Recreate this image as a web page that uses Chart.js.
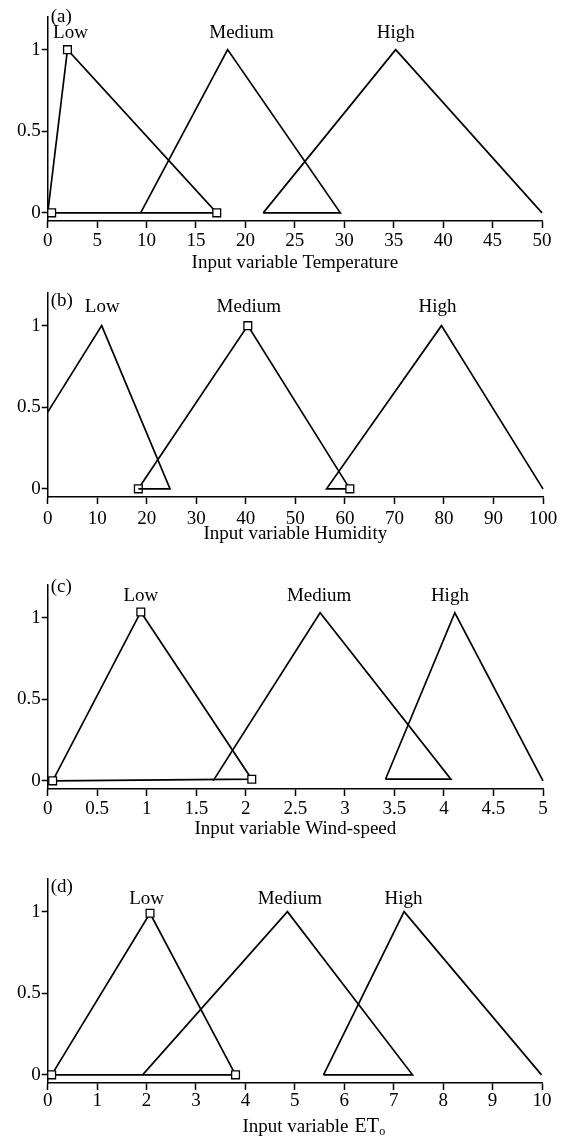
<!DOCTYPE html>
<html>
<head>
<meta charset="utf-8">
<script src="https://cdn.jsdelivr.net/npm/chart.js@4.4.0/dist/chart.umd.min.js"></script>
<style>
    body { margin: 0; background: #fff; }
    .panel { position: absolute; left: 0; }
</style>
</head>
<body>
<div class="panel" style="top:0px"><canvas id="canvas1" width="562" height="274"></canvas></div>
<div class="panel" style="top:280px"><canvas id="canvas2" width="562" height="265"></canvas></div>
<div class="panel" style="top:570px"><canvas id="canvas3" width="562" height="270"></canvas></div>
<div class="panel" style="top:860px"><canvas id="canvas4" width="562" height="277"></canvas></div>
<script>
// membership functions as (x, y) corner points
const setNames = ["Low", "Medium", "High"];
const yTicks = [0, 0.5, 1];

// (a) temperature
const tempLowX = [0, 2.0, 17.1, 0.4];
const tempLowY = [0, 1, 0, 0];
const tempLowMarks = [0, 1, 1, 1];
const tempMedX = [9.4, 18.2, 29.6, 21.8];
const tempMedY = [0, 1, 0, 0];
const tempHighX = [21.8, 35.2, 50];
const tempHighY = [0, 1, 0];
const tempLabelX = [2.3, 19.6, 35.2];

// (b) humidity
const humLowX = [0, 10.9, 24.7, 18.3];
const humLowY = [0.47, 1, 0, 0];
const humMedX = [18.3, 40.4, 61];
const humMedY = [0, 1, 0];
const humMedMarks = [1, 1, 1];
const humHighX = [61, 56.3, 79.5, 100];
const humHighY = [0, 0, 1, 0];
const humLabelX = [11, 40.6, 78.7];

// (c) wind speed
const windLowX = [0.05, 0.94, 2.06, 0.05];
const windLowY = [0, 1.035, 0.01, 0];
const windLowMarks = [1, 1, 1, 0];
const windMedX = [1.67, 2.75, 4.07, 3.41];
const windMedY = [0, 1.03, 0.01, 0.01];
const windHighX = [3.41, 4.11, 5];
const windHighY = [0.01, 1.03, 0];
const windLabelX = [0.94, 2.74, 4.06];

// (d) ETo
const etLowX = [0.08, 2.07, 3.8, 0.08];
const etLowY = [0, 0.99, 0, 0];
const etLowMarks = [1, 1, 1, 0];
const etMedX = [1.92, 4.85, 7.38, 5.58];
const etMedY = [0, 1, 0, 0];
const etHighX = [5.58, 7.21, 9.99];
const etHighY = [0, 1, 0];
const etLabelX = [2.0, 4.9, 7.2];

Chart.defaults.font.family = "'Liberation Serif', 'Times New Roman', serif";
Chart.defaults.font.size = 19;
Chart.defaults.color = "#000";

function points(xs, ys) {
    return xs.map(function (x, i) { return {x: x, y: ys[i]}; });
}

// text labels above the triangles, the panel letter and the (d) title
const annotate = {
    id: "annotate",
    afterDraw: function (chart, args, opts) {
        let ctx = chart.ctx;
        let xs = chart.scales.x, ys = chart.scales.y;
        ctx.save();
        ctx.fillStyle = "#000";
        ctx.font = "19px 'Liberation Serif', serif";
        ctx.textAlign = "center";
        ctx.textBaseline = "middle";
        opts.labelX.forEach(function (v, i) {
            ctx.fillText(setNames[i], xs.getPixelForValue(v), ys.getPixelForValue(opts.labelY));
        });
        ctx.textAlign = "left";
        ctx.fillText(opts.letter, chart.chartArea.left + 3, ys.getPixelForValue(opts.letterY));
        if (opts.subTitle) {
            // "Input variable ET" with a small subscript o
            let t = opts.subTitle;
            let w1 = ctx.measureText(t[0]).width;
            ctx.font = "20px 'Liberation Serif', serif";
            let w2 = ctx.measureText(t[1]).width;
            ctx.font = "12px 'Liberation Serif', serif";
            let w3 = ctx.measureText(t[2]).width;
            let gap = 6;
            let x = xs.getPixelForValue(opts.subTitleX) - (w1 + gap + w2 + w3) / 2;
            let base = chart.chartArea.bottom + 49;
            ctx.textBaseline = "alphabetic";
            ctx.font = "19px 'Liberation Serif', serif";
            ctx.fillText(t[0], x, base);
            x += w1 + gap;
            ctx.font = "20px 'Liberation Serif', serif";
            ctx.fillText(t[1], x, base);
            x += w2 + 0.5;
            ctx.font = "12px 'Liberation Serif', serif";
            ctx.fillText(t[2], x, base + 3);
        }
        ctx.restore();
    }
};

function tickText(value) {
    return String(Math.round(value * 100) / 100);
}

function showPanel(p) {
    let datasets = p.series.map(function (s) {
        let marks = s[2] || s[0].map(function () { return 0; });
        return {
            data: points(s[0], s[1]),
            showLine: true,
            borderColor: "#000",
            borderWidth: 1.7,
            pointStyle: "rect",
            pointRadius: marks.map(function (m) { return m ? 5.5 : 0; }),
            pointBackgroundColor: "#fff",
            pointBorderColor: "#000",
            pointBorderWidth: 1.3,
            clip: false
        };
    });

    new Chart(document.getElementById(p.id), {
        type: "scatter",
        data: {datasets: datasets},
        plugins: [annotate],
        options: {
            responsive: false,
            animation: false,
            events: [],
            layout: {padding: {top: p.padTop, right: p.padRight, left: 0, bottom: 0}},
            plugins: {
                legend: {display: false},
                tooltip: {enabled: false},
                annotate: {labelX: p.labelX, labelY: p.labelY, letter: p.letter, letterY: p.letterY,
                    subTitle: p.subTitle, subTitleX: p.subTitleX}
            },
            scales: {
                x: {
                    type: "linear",
                    min: 0,
                    max: p.xMax,
                    afterFit: function (scale) { scale.height = p.xHeight; },
                    grid: {drawOnChartArea: false, drawTicks: true, tickLength: 7, tickColor: "#000", tickWidth: 1.5},
                    border: {display: true, color: "#000", width: 1.5},
                    ticks: {stepSize: p.step, autoSkip: false, maxRotation: 0, padding: p.tickPad,
                        color: "#000", callback: tickText},
                    title: {display: !!p.title, text: p.title, color: "#000", padding: 0,
                        font: {size: 19}}
                },
                y: {
                    type: "linear",
                    min: -0.05,
                    max: 1.2,
                    afterFit: function (scale) { scale.width = 47.7; },
                    afterBuildTicks: function (scale) {
                        scale.ticks = yTicks.map(function (v) { return {value: v}; });
                    },
                    grid: {drawOnChartArea: false, drawTicks: true, tickLength: 6, tickColor: "#000", tickWidth: 1.5},
                    border: {display: true, color: "#000", width: 1.5},
                    ticks: {padding: 1, color: "#000", callback: tickText}
                }
            }
        }
    });
}

const panels = [
    {id: "canvas1", letter: "(a)", letterY: 1.2, title: "Input variable Temperature", xMax: 50, step: 5,
        padTop: 17, padRight: 20, xHeight: 53, tickPad: 2, labelX: tempLabelX, labelY: 1.1,
        series: [[tempLowX, tempLowY, tempLowMarks], [tempMedX, tempMedY], [tempHighX, tempHighY]]},
    {id: "canvas2", letter: "(b)", letterY: 1.15, title: "Input variable Humidity", xMax: 100, step: 10,
        padTop: 13, padRight: 19, xHeight: 48, tickPad: 4, labelX: humLabelX, labelY: 1.115,
        series: [[humLowX, humLowY], [humMedX, humMedY, humMedMarks], [humHighX, humHighY]]},
    {id: "canvas3", letter: "(c)", letterY: 1.19, title: "Input variable Wind-speed", xMax: 5, step: 0.5,
        padTop: 15, padRight: 19, xHeight: 51, tickPad: 2, labelX: windLabelX, labelY: 1.13,
        series: [[windLowX, windLowY, windLowMarks], [windMedX, windMedY], [windHighX, windHighY]]},
    {id: "canvas4", letter: "(d)", letterY: 1.15, title: "", xMax: 10, step: 1,
        padTop: 19, padRight: 20, xHeight: 54, tickPad: 0, labelX: etLabelX, labelY: 1.08,
        subTitle: ["Input variable", "ET", "o"], subTitleX: 5.38,
        series: [[etLowX, etLowY, etLowMarks], [etMedX, etMedY], [etHighX, etHighY]]}
];

panels.forEach(showPanel);
</script>
</body>
</html>
